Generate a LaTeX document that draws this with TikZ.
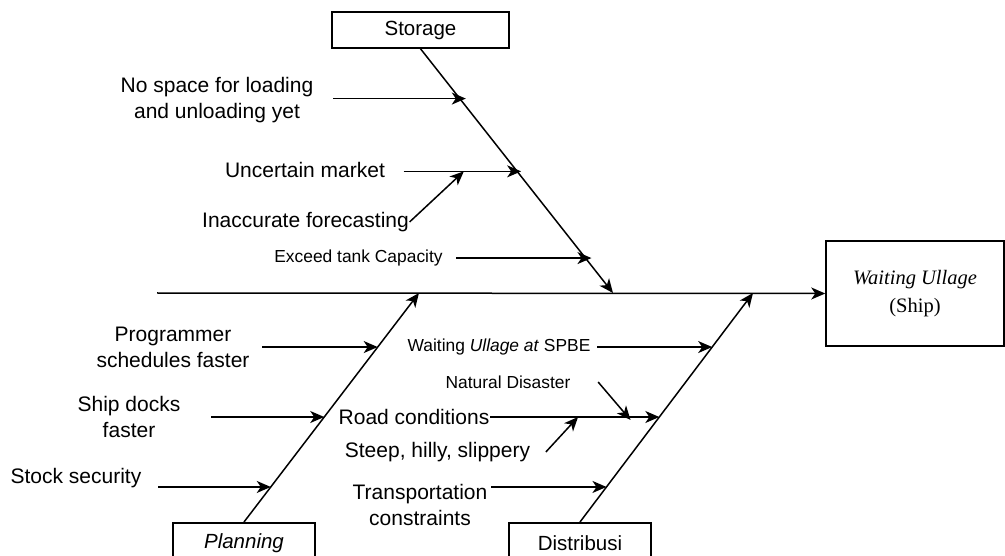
\documentclass[tikz,border=0pt]{standalone}
\usepackage{fontspec}
\setmainfont{Liberation Sans}
\newfontfamily\effectfont{Liberation Serif}
\usetikzlibrary{arrows.meta, calc, positioning}

\tikzset{
  bigtxt/.style={font=\fontsize{21}{26}\selectfont, align=center, inner sep=0pt},
  smalltxt/.style={font=\fontsize{17.4}{21}\selectfont, inner sep=0pt},
  catbox/.style={draw, line width=1.5pt, minimum width=142pt, minimum height=40pt,
    inner sep=0pt, font=\fontsize{20.5}{24}\selectfont},
}

\begin{document}
\begin{tikzpicture}[
        x=1pt, y=-1pt, line width=1.5pt,
        >={Stealth[length=14pt,width=12pt,inset=4pt]},
        ]
        \useasboundingbox (0,0) rectangle (1005,556);

        % categories and effect
        \node[catbox, minimum width=177pt, minimum height=36pt] (storage) at (420.5,30) {Storage};
        \node[catbox, anchor=north]   (planning)   at (244,522) {\itshape Planning};
        \node[catbox, anchor=north]   (distribusi) at (580,522) {Distribusi};
        \node[catbox, minimum width=178pt, minimum height=105pt, align=center,
              font=\effectfont\fontsize{20.5}{28}\selectfont] (effect) at (915,293.5)
              {\itshape Waiting Ullage\\(Ship)};

        % spine and bones
        \coordinate (tail)  at (157,293);
        \coordinate (stTip) at (613,293);
        \coordinate (plTip) at (419,293);
        \coordinate (diTip) at (753,293);
        \draw[->] (tail) -- (effect.west);
        \draw[->] (storage.south) -- (stTip);
        \draw[->] (planning.north) -- (plTip);
        \draw[->] (distribusi.north) -- (diTip);

        \coordinate (s1) at ($(storage.south)!0.204!(stTip)$);
        \coordinate (s2) at ($(storage.south)!0.502!(stTip)$);
        \coordinate (s3) at ($(storage.south)!0.857!(stTip)$);
        \coordinate (p1) at ($(planning.north)!0.764!(plTip)$);
        \coordinate (p2) at ($(planning.north)!0.4585!(plTip)$);
        \coordinate (p3) at ($(planning.north)!0.153!(plTip)$);
        \coordinate (d1) at ($(distribusi.north)!0.764!(diTip)$);
        \coordinate (d2) at ($(distribusi.north)!0.4585!(diTip)$);
        \coordinate (d3) at ($(distribusi.north)!0.153!(diTip)$);

        % storage causes
        \node[bigtxt]   (nospace)  at (217,100)   {No space for loading\\and unloading yet};
        \node[bigtxt]   (market)   at (305,170)   {Uncertain market};
        \node[bigtxt]   (forecast) at (305.5,222) {Inaccurate forecasting};
        \node[smalltxt] (exceed)   at (358.5,258) {Exceed tank Capacity};

        \draw[->] ([xshift=19pt]nospace.east |- s1) -- ([xshift=6pt]s1);
        \coordinate (marketA) at ([xshift=18pt]market.east |- s2);
        \coordinate (marketB) at ($(marketA)!0.53!(s2)$);
        \draw[->] (marketA) -- ([xshift=4pt]s2);
        \draw[->] (forecast.east) -- (marketB);
        \draw[->] ([xshift=13pt]exceed.east |- s3) -- ([xshift=6pt]s3);

        % planning causes
        \node[bigtxt] (programmer) at (173,347) {Programmer\\schedules faster};
        \node[bigtxt] (docks)      at (129,417) {Ship docks\\faster};
        \node[bigtxt] (stock)      at (76,478)  {Stock security};

        \draw[->] ([xshift=12pt]programmer.east |- p1) -- (p1);
        \draw[->] ([xshift=30pt]docks.east |- p2) -- (p2);
        \draw[->] ([xshift=16pt]stock.east |- p3) -- (p3);

        % distribusi causes
        \node[smalltxt] (waiting)   at (499,347)   {Waiting \textit{Ullage at} SPBE};
        \node[smalltxt] (disaster)  at (508,382)   {Natural Disaster};
        \node[bigtxt]   (road)      at (414,417)   {Road conditions};
        \node[bigtxt]   (steep)     at (437.5,452) {Steep, hilly, slippery};
        \node[bigtxt]   (transport) at (420,505)   {Transportation\\constraints};

        \draw[->] ([xshift=6pt]waiting.east |- d1) -- (d1);
        \draw[->] (road.east |- d2) -- (d2);
        \coordinate (roadA) at ($(road.east |- d2)!0.83!(d2)$);
        \coordinate (roadB) at ($(road.east |- d2)!0.52!(d2)$);
        \draw[->] ([xshift=27pt]disaster.east) -- ([yshift=-3pt]roadA);
        \draw[->] ([xshift=15pt]steep.east) -- (roadB);
        \draw[->] ([xshift=3pt]transport.east |- d3) -- (d3);
      \end{tikzpicture}
\end{document}
